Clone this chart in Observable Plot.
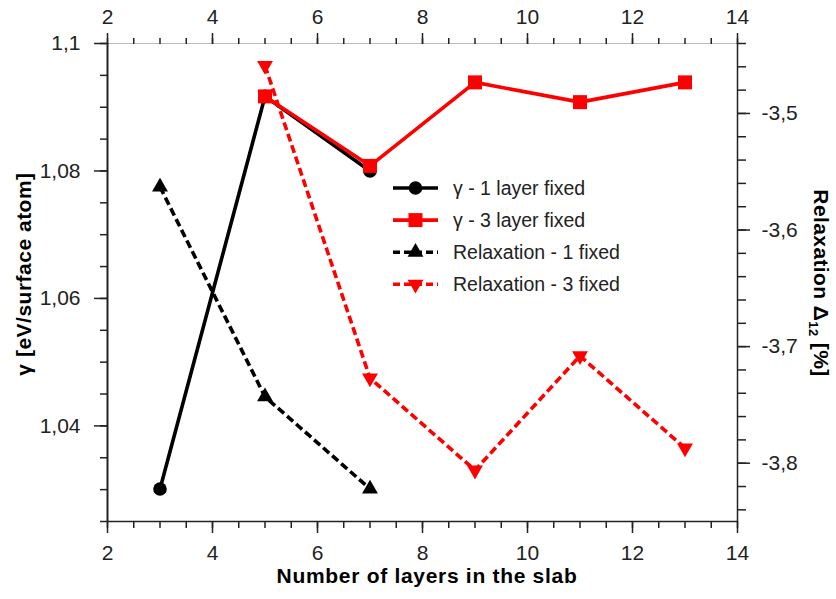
<!DOCTYPE html>
<html><head><meta charset="utf-8">
<script src="https://cdn.jsdelivr.net/npm/d3@7"></script>
<script src="https://cdn.jsdelivr.net/npm/@observablehq/plot@0.6"></script>
<style>body{margin:0;background:#fff}</style>
</head><body><div id="chart"></div>
<script>
// ---- data ----
const layers1 = [3, 5, 7];
const gamma1 = [1.0301, 1.0917, 1.0800];
const layers3 = [5, 7, 9, 11, 13];
const gamma3 = [1.0917, 1.0808, 1.0939, 1.0908, 1.0939];
const relaxLayers1 = [3, 5, 7];
const relax1 = [-3.563, -3.743, -3.822];
const relaxLayers3 = [5, 7, 9, 11, 13];
const relax3 = [-3.459, -3.727, -3.806, -3.708, -3.787];
const xTicks = [2, 4, 6, 8, 10, 12, 14];
const xTickLabels = ["2", "4", "6", "8", "10", "12", "14"];
const gammaTicks = [1.04, 1.06, 1.08, 1.1];
const gammaTickLabels = ["1,04", "1,06", "1,08", "1,1"];
const relaxTicks = [-3.5, -3.6, -3.7, -3.8];
const relaxTickLabels = ["-3,5", "-3,6", "-3,7", "-3,8"];
const seriesNames = ["γ - 1 layer fixed", "γ - 3 layer fixed", "Relaxation - 1 fixed", "Relaxation - 3 fixed"];
const xTitle = "Number of layers in the slab";
const yTitle = "γ [eV/surface atom]";

// ---- scales ----
const xDomain = [2, 14];
const gammaDomain = [1.025, 1.1];
const relaxDomain = [-3.85, -3.44];
const rel = d3.scaleLinear(relaxDomain, gammaDomain);
const xMinor = d3.range(2, 14.001, 0.5);
const gammaMinor = d3.range(1.025, 1.1001, 0.005);
const relaxMinor = d3.range(-3.84, -3.4399, 0.02).map(rel);

const sqrt3 = Math.sqrt(3);
const triUp = {draw(ctx, size) {const y = -Math.sqrt(size / (sqrt3 * 3)); ctx.moveTo(0, y * 2); ctx.lineTo(-sqrt3 * y, -y); ctx.lineTo(sqrt3 * y, -y); ctx.closePath();}};
const triDown = {draw(ctx, size) {const y = Math.sqrt(size / (sqrt3 * 3)); ctx.moveTo(0, y * 2); ctx.lineTo(-sqrt3 * y, -y); ctx.lineTo(sqrt3 * y, -y); ctx.closePath();}};

const g1 = layers1.map((x, i) => ({x, y: gamma1[i]}));
const g3 = layers3.map((x, i) => ({x, y: gamma3[i]}));
const r1 = relaxLayers1.map((x, i) => ({x, y: rel(relax1[i])}));
const r3 = relaxLayers3.map((x, i) => ({x, y: rel(relax3[i])}));

const font = "'Liberation Sans', Arial, Helvetica, sans-serif";
const ink = "#222";
const lw = 3.6;
const dash = "8,4";
const triR = 5.9;
const circR = 6.8;
const sqR = 7.9;
const lineStyle = {strokeWidth: lw, strokeLinecap: "butt", strokeLinejoin: "miter"};
const lab = (ticks, labels, map = d => d) => d => {
  const i = ticks.findIndex(t => Math.abs(map(t) - d) < 1e-9);
  return i < 0 ? "" : labels[i];
};

const chart = Plot.plot({
  width: 836, height: 599,
  marginLeft: 107, marginRight: 99, marginTop: 43, marginBottom: 78,
  style: {fontFamily: font, background: "#fff", color: ink, overflow: "visible"},
  x: {domain: xDomain, label: null},
  y: {domain: gammaDomain, label: null},
  marks: [
    // frame
    Plot.ruleY([gammaDomain[1]], {stroke: "#bbb", strokeWidth: 1}),
    Plot.ruleY([gammaDomain[0]], {stroke: ink, strokeWidth: 1.5}),
    Plot.ruleX([xDomain[0]], {stroke: ink, strokeWidth: 2}),
    Plot.ruleX([xDomain[1]], {stroke: ink, strokeWidth: 1.5}),
    // minor ticks
    Plot.axisX({anchor: "bottom", ticks: xMinor, tickSize: 7, tickFormat: () => "", strokeWidth: 1.5, label: null}),
    Plot.axisX({anchor: "top", ticks: xMinor, tickSize: 6, tickFormat: () => "", strokeWidth: 1.5, label: null}),
    Plot.axisY({anchor: "left", ticks: gammaMinor, tickSize: 7, tickFormat: () => "", strokeWidth: 1.5, label: null}),
    Plot.axisY({anchor: "right", ticks: relaxMinor, tickSize: 8, tickFormat: () => "", strokeWidth: 1.5, label: null}),
    // major ticks + labels
    Plot.axisX({anchor: "bottom", ticks: xTicks, tickSize: 12, tickPadding: 12, tickFormat: lab(xTicks, xTickLabels), fontSize: 21, strokeWidth: 1.5, label: null}),
    Plot.axisX({anchor: "top", ticks: xTicks, tickSize: 11, tickPadding: 9, tickFormat: lab(xTicks, xTickLabels), fontSize: 21, strokeWidth: 1.5, label: null}),
    Plot.axisY({anchor: "left", ticks: gammaTicks, tickSize: 13, tickPadding: 14, tickFormat: lab(gammaTicks, gammaTickLabels), fontSize: 21, strokeWidth: 1.5, label: null}),
    Plot.axisY({anchor: "right", ticks: relaxTicks.map(rel), tickSize: 12, tickPadding: 12, tickFormat: lab(relaxTicks, relaxTickLabels, rel), fontSize: 21, strokeWidth: 1.5, label: null}),
    // series
    Plot.line(g1, {x: "x", y: "y", stroke: "#000", ...lineStyle}),
    Plot.dot(g1, {x: "x", y: "y", r: circR, fill: "#000", stroke: "none", symbol: "circle"}),
    Plot.line(r1, {x: "x", y: "y", stroke: "#000", ...lineStyle, strokeDasharray: dash}),
    Plot.dot(r1, {x: "x", y: "y", r: triR, fill: "#000", stroke: "none", symbol: triUp}),
    Plot.line(g3, {x: "x", y: "y", stroke: "#ff0000", ...lineStyle}),
    Plot.dot(g3, {x: "x", y: "y", r: sqR, fill: "#ff0000", stroke: "none", symbol: "square"}),
    Plot.line(r3, {x: "x", y: "y", stroke: "#ff0000", ...lineStyle, strokeDasharray: dash}),
    Plot.dot(r3, {x: "x", y: "y", r: triR, fill: "#ff0000", stroke: "none", symbol: triDown})
  ]
});
document.getElementById("chart").appendChild(chart);

// ---- titles ----
const svg = d3.select(chart);
svg.append("text").attr("x", 427).attr("y", 583).attr("text-anchor", "middle")
  .attr("font-family", font).attr("font-weight", "bold").attr("font-size", 21).attr("letter-spacing", 0.7)
  .attr("fill", "#000").text(xTitle);
svg.append("text").attr("transform", "translate(31,274) rotate(-90)").attr("text-anchor", "middle")
  .attr("font-family", font).attr("font-weight", "bold").attr("font-size", 21).attr("letter-spacing", 0.5)
  .attr("fill", "#000").text(yTitle);
const rt = svg.append("text").attr("transform", "translate(814,283) rotate(90)").attr("text-anchor", "middle")
  .attr("font-family", font).attr("font-weight", "bold").attr("font-size", 21).attr("letter-spacing", 0.4)
  .attr("fill", "#000");
rt.append("tspan").text("Relaxation Δ");
rt.append("tspan").attr("font-size", 13).attr("dy", 5).text("12");
rt.append("tspan").attr("dy", -5).text(" [%]");

// ---- legend ----
const legendColors = ["#000", "#ff0000", "#000", "#ff0000"];
const legendDash = [null, null, "7,4", "7,4"];
const legendSymbols = [d3.symbolCircle, d3.symbolSquare, triUp, triDown];
const legendSizes = [Math.PI * circR * circR, 14 * 14, Math.PI * triR * triR, Math.PI * triR * triR];
const lg = svg.append("g").attr("text-anchor", "start");
seriesNames.forEach((name, i) => {
  const y = 188 + i * 32.1;
  lg.append("line").attr("x1", 393).attr("x2", 438).attr("y1", y).attr("y2", y)
    .attr("stroke", legendColors[i]).attr("stroke-width", lw).attr("stroke-dasharray", legendDash[i]);
  lg.append("path").attr("transform", `translate(415.5,${y})`)
    .attr("d", d3.symbol(legendSymbols[i], legendSizes[i])()).attr("fill", legendColors[i]);
  lg.append("text").attr("x", 453).attr("y", y).attr("dy", "0.35em").attr("text-anchor", "start")
    .attr("font-family", font).attr("font-size", 19.5).attr("fill", ink).text(name);
});
</script>
</body></html>
